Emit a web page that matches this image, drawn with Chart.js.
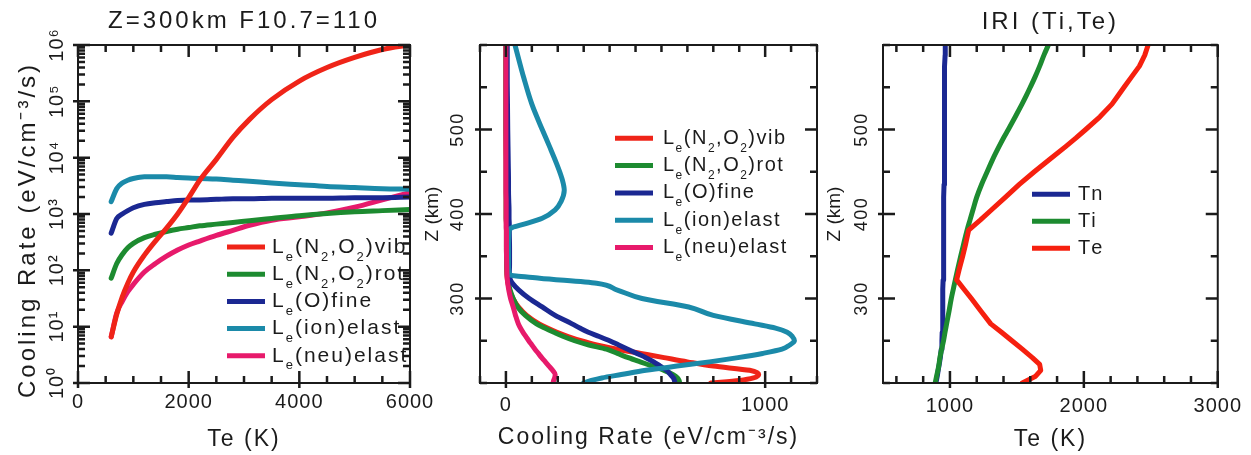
<!DOCTYPE html>
<html>
<head>
<meta charset="utf-8">
<script src="https://cdn.jsdelivr.net/npm/chart.js@4.4.1/dist/chart.umd.min.js"></script>
<style>
  html, body { margin: 0; padding: 0; background: #fff; }
  #wrap { position: relative; width: 1251px; height: 455px; overflow: hidden; background: #fff; }
  canvas.panel { position: absolute; top: 0; }
</style>
</head>
<body>
<div id="wrap">
  <canvas id="p1" class="panel" width="440" height="455" style="left:0px"></canvas>
  <canvas id="p2" class="panel" width="420" height="455" style="left:420px"></canvas>
  <canvas id="p3" class="panel" width="431" height="455" style="left:820px"></canvas>
</div>
<script>
// ---------- data ----------
// Panel 1: electron cooling rates at 300 km versus electron temperature
const teK = [600, 700, 800, 900, 1000, 1200, 1400, 1600, 1800, 2000, 2200, 2500, 2800, 3100, 3500, 4000, 4500, 5000, 5500, 6000];
const vibRate  = [6.6, 16.6, 33.9, 58.9, 93.3, 186, 331, 562, 1000, 1950, 3981, 9333, 22910, 47860, 107200, 229100, 398100, 602600, 831800, 1000000];
const rotRate  = [72.4, 132, 191, 251, 302, 380, 437, 490, 537, 575, 617, 661, 708, 759, 832, 933, 1023, 1096, 1148, 1202];
const fineRate = [457, 832, 1000, 1148, 1288, 1479, 1585, 1660, 1738, 1778, 1778, 1820, 1862, 1862, 1905, 1905, 1905, 1950, 1950, 1995];
const ionRate  = [1660, 2818, 3548, 3981, 4266, 4571, 4571, 4571, 4467, 4365, 4266, 4169, 3981, 3802, 3548, 3311, 3090, 2951, 2818, 2754];
const neuRate  = [6.6, 17.4, 28.2, 41.7, 56.2, 93.3, 132, 178, 229, 282, 331, 417, 513, 631, 776, 891, 1047, 1318, 1778, 2399];

// Panel 2: cooling rate profiles versus altitude
const zKm = [200, 203, 206, 210, 215, 220, 225, 230, 235, 240, 245, 250, 255, 260, 265, 270, 280, 290, 300, 310, 318, 324, 328, 340, 360, 380, 384, 388, 395, 405, 415, 428, 440, 460, 480, 500, 530, 560, 600];
const vibZ  = [790, 900, 955, 975, 940, 800, 700, 610, 520, 430, 350, 290, 240, 197, 160, 128, 80, 48, 27, 14, 8, 5, 4, 3, 2, 2, 2, 2, 1, 1, 1, 1, 1, 1, 0, 0, 0, 0, 0];
const rotZ  = [670, 668, 662, 645, 610, 565, 518, 472, 430, 388, 320, 265, 222, 185, 150, 118, 75, 45, 28, 16, 10, 7, 5, 3, 2, 2, 2, 2, 1, 1, 1, 1, 1, 1, 1, 0, 0, 0, 0];
const fineZ = [652, 650, 646, 635, 620, 595, 570, 540, 505, 470, 435, 400, 360, 318, 285, 255, 190, 140, 90, 50, 25, 15, 13, 14, 14, 13, 13, 13, 12, 12, 11, 10, 10, 9, 8, 7, 6, 5, 5];
const ionZ  = [300, 330, 370, 445, 540, 660, 785, 895, 990, 1065, 1095, 1113, 1105, 1085, 1040, 960, 800, 705, 525, 430, 350, 130, 15, 10, 10, 12, 25, 70, 140, 190, 213, 225, 218, 195, 168, 140, 100, 70, 35];
const neuZ  = [182, 184, 188, 190, 180, 166, 152, 138, 125, 112, 100, 88, 77, 66, 56, 48, 37, 28, 18, 11, 7, 5, 4, 3, 2, 2, 1, 1, 1, 1, 1, 0, 0, 0, 0, 0, 0, 0, 0];

// Panel 3: IRI temperature profiles
const zIri  = [200, 208, 215, 222, 230, 240, 250, 260, 270, 285, 300, 311, 322, 335, 350, 365, 381, 393, 405, 420, 435, 450, 465, 480, 490, 500, 515, 530, 540, 550, 562, 575, 588, 600];
const tnIri = [895, 905, 912, 920, 928, 935, 940, 942, 944, 946, 947, 948, 949, 950, 951, 952, 953, 954, 955, 955, 956, 957, 957, 958, 958, 959, 959, 960, 960, 961, 962, 963, 964, 965];
const tiIri = [890, 900, 910, 918, 925, 938, 952, 963, 975, 993, 1010, 1025, 1040, 1058, 1080, 1103, 1128, 1150, 1172, 1200, 1236, 1278, 1320, 1367, 1400, 1436, 1488, 1538, 1570, 1600, 1635, 1670, 1702, 1735];
const teIri = [1540, 1640, 1678, 1670, 1615, 1540, 1463, 1385, 1305, 1232, 1160, 1105, 1050, 1070, 1095, 1118, 1140, 1228, 1311, 1415, 1518, 1630, 1748, 1866, 1942, 2014, 2120, 2210, 2255, 2300, 2355, 2415, 2455, 2480];

// names and tick labels
const coolingNames = ['Lₑ(N₂,O₂)vib', 'Lₑ(N₂,O₂)rot', 'Lₑ(O)fine', 'Lₑ(ion)elast', 'Lₑ(neu)elast'];
const iriNames = ['Tn', 'Ti', 'Te'];
const title1 = 'Z=300km F10.7=110';
const title3 = 'IRI (Ti,Te)';
const rateLabel = 'Cooling Rate (eV/cm⁻³/s)';
const tempLabel = 'Te (K)';
const altLabel = 'Z (km)';
const xTicks1 = [0, 2000, 4000, 6000];
const yTicks1 = [1, 10, 100, 1000, 10000, 100000, 1000000];
const yTickLabels1 = ['10⁰', '10¹', '10²', '10³', '10⁴', '10⁵', '10⁶'];
const xTicks2 = [0, 1000];
const xTicks3 = [1000, 2000, 3000];
const zTicks = [300, 400, 500];

// ---------- styling ----------
const FONT = "'Liberation Sans', Arial, Helvetica, sans-serif";
const INK = '#1b1b1b';
const RED = '#ef2418', GREEN = '#1d8b30', NAVY = '#1b2892', TEAL = '#1b8aa9', PINK = '#e71a6b';
const coolingColors = [RED, GREEN, NAVY, TEAL, PINK];
const iriColors = [NAVY, GREEN, '#f6200f'];
const iriCurve = ['default', 'monotone', 'default'];

Chart.defaults.font.family = FONT;
Chart.defaults.color = INK;
Chart.defaults.animation = false;

// extra spacing between letters, by font size in px
const SPACING = { 24: 3, 23: 2, 20: 1, 18: 1.5 };
const textSpacing = {
  id: 'textSpacing',
  beforeDraw(chart) {
    const ctx = chart.ctx;
    if (ctx.__spacedText) return;
    const plain = CanvasRenderingContext2D.prototype.fillText;
    ctx.fillText = function (t, x, y, w) {
      const m = /(\d+(?:\.\d+)?)px/.exec(this.font);
      const size = m ? Math.round(parseFloat(m[1])) : 0;
      this.letterSpacing = (SPACING[size] || 0) + 'px';
      return w === undefined ? plain.call(this, t, x, y) : plain.call(this, t, x, y, w);
    };
    ctx.__spacedText = true;
  }
};

// box around the plot with inward tick marks on all four sides
const frameTicks = {
  id: 'frameTicks',
  afterDraw(chart, args, o) {
    const { ctx, chartArea: a } = chart;
    const xs = chart.scales.x, ys = chart.scales.y;
    const xMajor = xs.ticks.map(t => t.value);
    const yMajor = ys.ticks.map(t => t.value);
    ctx.save();
    ctx.strokeStyle = INK;
    ctx.lineCap = 'butt';
    ctx.lineWidth = 2.5;
    ctx.beginPath();
    const seg = (x1, y1, x2, y2) => { ctx.moveTo(x1, y1); ctx.lineTo(x2, y2); };
    for (let v = Math.ceil(xs.min / o.xStep) * o.xStep; v <= xs.max; v += o.xStep) {
      const p = xs.getPixelForValue(v);
      const major = xMajor.includes(v);
      const len = major ? 12 : 7;
      seg(p, a.bottom + (major ? 5 : 0), p, a.bottom - len);
      seg(p, a.top, p, a.top + len);
    }
    const yVals = [];
    if (ys.type === 'logarithmic') {
      for (let d = 1; d < ys.max; d *= 10) for (let k = 1; k <= 9; k++) yVals.push(k * d);
      yVals.push(ys.max);
    } else {
      for (let v = Math.ceil(ys.min / o.yStep) * o.yStep; v <= ys.max; v += o.yStep) yVals.push(v);
    }
    yVals.forEach(v => {
      const p = ys.getPixelForValue(v);
      const major = yMajor.includes(v);
      const len = major ? 12 : 7;
      seg(a.left - (major ? 5 : 0), p, a.left + len, p);
      seg(a.right, p, a.right - len, p);
    });
    ctx.stroke();
    ctx.lineWidth = 2;
    ctx.strokeRect(a.left, a.top, a.right - a.left, a.bottom - a.top);
    ctx.restore();
  }
};

// legend drawn inside the plot, with true subscripts
const SUB = { 'ₑ': 'e', '₂': '2' };
const inlineLegend = {
  id: 'inlineLegend',
  afterDraw(chart, args, o) {
    const ctx = chart.ctx;
    const plain = CanvasRenderingContext2D.prototype.fillText;
    ctx.save();
    ctx.letterSpacing = '0px';
    ctx.textBaseline = 'middle';
    ctx.textAlign = 'left';
    ctx.fillStyle = INK;
    chart.data.datasets.forEach((ds, i) => {
      const y = o.y + i * o.gap;
      ctx.strokeStyle = ds.borderColor;
      ctx.lineWidth = 5;
      ctx.beginPath();
      ctx.moveTo(o.x0, y);
      ctx.lineTo(o.x1, y);
      ctx.stroke();
      let x = o.textX;
      for (const ch of ds.label) {
        const sub = SUB[ch];
        const g = sub || ch;
        ctx.font = (sub ? o.subSize : o.size) + 'px ' + FONT;
        plain.call(ctx, g, x, sub ? y + o.subDrop : y);
        x += ctx.measureText(g).width + o.spacing;
      }
    });
    ctx.restore();
  }
};

// rotated axis title placed freely
const sideTitle = {
  id: 'sideTitle',
  afterDraw(chart, args, o) {
    if (!o.text) return;
    const ctx = chart.ctx;
    ctx.save();
    ctx.translate(o.x, o.y);
    ctx.rotate(-Math.PI / 2);
    ctx.font = o.size + 'px ' + FONT;
    ctx.fillStyle = INK;
    ctx.textAlign = 'center';
    ctx.textBaseline = 'middle';
    ctx.fillText(o.text, 0, 0);
    ctx.restore();
  }
};

const pts = (xs, ys) => xs.map((x, i) => ({ x, y: ys[i] }));
const series = (label, data, color, order, extra) => Object.assign({
  label, data, borderColor: color, backgroundColor: color, borderWidth: 5,
  pointRadius: 0, fill: false, order, borderCapStyle: 'round', borderJoinStyle: 'round'
}, extra || {});
const fixed = list => s => { s.ticks = list.map(v => ({ value: v })); };
const baseScale = {
  grid: { display: false, drawTicks: false },
  border: { display: false }
};
const commonPlugins = [textSpacing, frameTicks, inlineLegend, sideTitle];

// ---------- panel 1 ----------
const rates1 = [vibRate, rotRate, fineRate, ionRate, neuRate];
new Chart(document.getElementById('p1'), {
  type: 'line',
  data: { datasets: rates1.map((r, i) => series(coolingNames[i], pts(teK, r), coolingColors[i], i)) },
  options: {
    responsive: false,
    layout: { padding: { left: 0, right: 30, top: 0, bottom: 0 } },
    elements: { line: { cubicInterpolationMode: 'monotone' } },
    scales: {
      x: {
        ...baseScale, type: 'linear', min: 0, max: 6000,
        afterBuildTicks: fixed(xTicks1),
        afterFit: s => { s.height = 72; },
        ticks: { font: { size: 20 }, padding: 7, maxRotation: 0, autoSkip: false, callback: v => String(v) },
        title: { display: true, text: tempLabel, font: { size: 23 }, padding: { top: 0, bottom: 1.2 } }
      },
      y: {
        ...baseScale, type: 'logarithmic', min: 1, max: 1000000,
        afterBuildTicks: fixed(yTicks1),
        afterFit: s => { s.width = 78; },
        ticks: { font: { size: 20 }, padding: 5, minRotation: 90, maxRotation: 90, crossAlign: 'center', autoSkip: false,
                 callback: (v, i) => yTickLabels1[i] }
      }
    },
    plugins: {
      legend: { display: false },
      tooltip: { enabled: false },
      title: { display: true, text: title1, fullSize: false, color: INK, font: { size: 24, weight: 'normal' }, padding: { top: 6.6, bottom: 9.6 } },
      frameTicks: { xStep: 500 },
      inlineLegend: { x0: 227, x1: 265, textX: 272, y: 247, gap: 27.2, size: 21, subSize: 13, subDrop: 10, spacing: 2 },
      sideTitle: { text: rateLabel, x: 28, y: 230, size: 24 }
    }
  },
  plugins: commonPlugins
});

// ---------- panel 2 (altitude is the index axis) ----------
const rates2 = [vibZ, rotZ, fineZ, ionZ, neuZ];
new Chart(document.getElementById('p2'), {
  type: 'line',
  data: { datasets: rates2.map((r, i) => series(coolingNames[i], pts(r, zKm), coolingColors[i], 4 - i)) },
  options: {
    responsive: false,
    indexAxis: 'y',
    layout: { padding: { left: 0, right: 23, top: 45, bottom: 0 } },
    elements: { line: { cubicInterpolationMode: 'monotone' } },
    scales: {
      x: {
        ...baseScale, type: 'linear', position: 'bottom', min: -100, max: 1200,
        afterBuildTicks: fixed(xTicks2),
        afterFit: s => { s.height = 72; },
        ticks: { font: { size: 20 }, padding: 10.5, maxRotation: 0, autoSkip: false, callback: v => String(v) },
        title: { display: true, text: rateLabel, font: { size: 23 }, padding: { top: 0, bottom: 3.2 } }
      },
      y: {
        ...baseScale, type: 'linear', position: 'left', min: 200, max: 600,
        afterBuildTicks: fixed(zTicks),
        afterFit: s => { s.width = 60; },
        ticks: { font: { size: 18 }, padding: 6.5, minRotation: 90, maxRotation: 90, crossAlign: 'center', autoSkip: false,
                 callback: v => String(v) },
        title: { display: true, text: altLabel, font: { size: 19 }, padding: { top: 1.6, bottom: 0 } }
      }
    },
    plugins: {
      legend: { display: false },
      tooltip: { enabled: false },
      frameTicks: { xStep: 100, yStep: 50 },
      inlineLegend: { x0: 195, x1: 233, textX: 243, y: 138.3, gap: 27.3, size: 20, subSize: 12, subDrop: 10, spacing: 1.5 },
      sideTitle: { text: '' }
    }
  },
  plugins: commonPlugins
});

// ---------- panel 3 (altitude is the index axis) ----------
const temps3 = [tnIri, tiIri, teIri];
new Chart(document.getElementById('p3'), {
  type: 'line',
  data: { datasets: temps3.map((t, i) => series(iriNames[i], pts(t, zIri), iriColors[i], 2 - i,
                                                { cubicInterpolationMode: iriCurve[i], tension: 0 })) },
  options: {
    responsive: false,
    indexAxis: 'y',
    layout: { padding: { left: 0, right: 33, top: 0, bottom: 0 } },
    scales: {
      x: {
        ...baseScale, type: 'linear', position: 'bottom', min: 500, max: 3000,
        afterBuildTicks: fixed(xTicks3),
        afterFit: s => { s.height = 72; },
        ticks: { font: { size: 20 }, padding: 11, maxRotation: 0, autoSkip: false, callback: v => String(v) },
        title: { display: true, text: tempLabel, font: { size: 23 }, padding: { top: 0, bottom: 1.2 } }
      },
      y: {
        ...baseScale, type: 'linear', position: 'left', min: 200, max: 600,
        afterBuildTicks: fixed(zTicks),
        afterFit: s => { s.width = 63; },
        ticks: { font: { size: 18 }, padding: 6.3, minRotation: 90, maxRotation: 90, crossAlign: 'center', autoSkip: false,
                 callback: v => String(v) },
        title: { display: true, text: altLabel, font: { size: 19 }, padding: { top: 3.6, bottom: 0 } }
      }
    },
    plugins: {
      legend: { display: false },
      tooltip: { enabled: false },
      title: { display: true, text: title3, fullSize: false, color: INK, font: { size: 24, weight: 'normal' }, padding: { top: 8, bottom: 8.2 } },
      frameTicks: { xStep: 200, yStep: 50 },
      inlineLegend: { x0: 212, x1: 250, textX: 258, y: 194.3, gap: 27, size: 20, subSize: 12, subDrop: 10, spacing: 1 },
      sideTitle: { text: '' }
    }
  },
  plugins: commonPlugins
});
</script>
</body>
</html>
